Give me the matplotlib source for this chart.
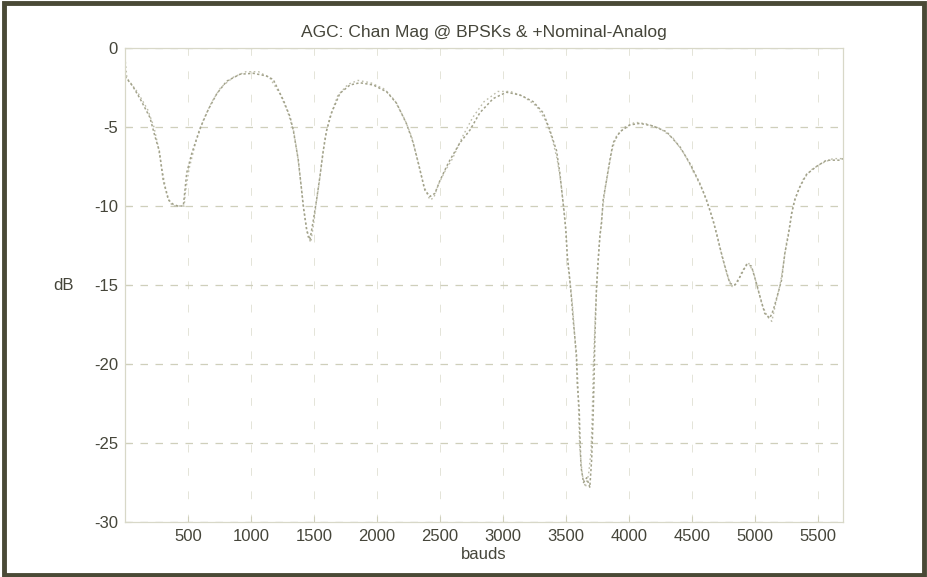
import matplotlib.pyplot as plt
from matplotlib.patches import Rectangle
import numpy as np

# two overlapping AGC channel-magnitude traces
baud_a = [0, 60, 119, 198, 238, 272, 304, 344, 383, 420, 463, 490, 529, 595, 661, 728, 807, 913,
          1018, 1124, 1177, 1257, 1310, 1336, 1376, 1402, 1415, 1442, 1468, 1495, 1521, 1548, 1574,
          1601, 1640, 1706, 1786, 1865, 1971, 2077, 2156, 2235, 2288, 2341, 2381, 2421, 2460, 2500,
          2553, 2579, 2659, 2738, 2817, 2923, 3029, 3135, 3241, 3320, 3373, 3426, 3452, 3479, 3500,
          3511, 3527, 3545, 3558, 3571, 3585, 3590, 3606, 3611, 3620, 3640, 3665, 3690, 3705, 3717,
          3725, 3730, 3743, 3757, 3770, 3783, 3796, 3823, 3849, 3875, 3929, 4008, 4087, 4193, 4299,
          4405, 4484, 4563, 4616, 4669, 4722, 4762, 4802, 4841, 4881, 4934, 4973, 5013, 5040, 5079,
          5119, 5146, 5185, 5212, 5238, 5265, 5291, 5317, 5357, 5410, 5489, 5569, 5675, 5700]
db_a = [-1.8, -2.4, -3.2, -4.4, -5.6, -6.5, -8.4, -9.6, -9.9, -10.0, -10.0, -7.9, -6.7, -5.1, -3.9,
        -2.9, -2.1, -1.66, -1.6, -1.77, -2.0, -3.3, -4.35, -5.2, -7.1, -9.0, -10.0, -11.5, -12.15,
        -10.9, -9.6, -8.1, -6.5, -5.2, -4.1, -2.87, -2.34, -2.2, -2.34, -2.77, -3.5, -4.8, -6.0,
        -7.7, -9.0, -9.4, -9.2, -8.4, -7.5, -7.1, -6.0, -5.2, -4.1, -3.2, -2.8, -2.97, -3.4, -4.1,
        -5.2, -6.5, -7.9, -9.9, -11.5, -13.2, -14.3, -15.9, -17.2, -18.3, -19.5, -21.2, -22.9,
        -24.4, -26.5, -27.5, -27.2, -27.8, -26.0, -23.1, -20.5, -18.4, -15.2, -13.4, -11.9, -11.1,
        -9.6, -8.35, -7.1, -6.0, -5.3, -4.87, -4.77, -4.94, -5.3, -6.25, -7.3, -8.56, -9.6, -10.9,
        -12.6, -13.8, -14.9, -15.0, -14.5, -13.7, -13.8, -14.9, -15.7, -16.8, -17.1, -16.6, -15.5,
        -14.7, -13.0, -11.9, -10.5, -9.6, -8.8, -8.0, -7.5, -7.1, -7.1, -7.0]

baud_b = [0, 15, 100, 180, 230, 265, 290, 320, 350, 380, 470, 480, 510, 560, 620, 690, 760, 860,
          960, 1060, 1150, 1230, 1290, 1340, 1370, 1395, 1420, 1450, 1475, 1500, 1515, 1540, 1565,
          1590, 1625, 1690, 1770, 1850, 1950, 2060, 2140, 2220, 2275, 2330, 2370, 2420, 2450, 2490,
          2540, 2600, 2680, 2760, 2850, 2960, 3060, 3170, 3270, 3340, 3390, 3430, 3460, 3490, 3505,
          3520, 3540, 3555, 3575, 3595, 3600, 3610, 3630, 3655, 3680, 3700, 3711, 3717, 3733, 3750,
          3765, 3790, 3810, 3840, 3865, 3900, 3970, 4050, 4140, 4250, 4350, 4440, 4520, 4590, 4640,
          4700, 4740, 4785, 4820, 4860, 4900, 4950, 4990, 5025, 5060, 5100, 5135, 5165, 5200, 5225,
          5250, 5280, 5305, 5340, 5385, 5450, 5530, 5620, 5700]
db_b = [-0.6, -1.9, -2.8, -3.9, -5.0, -6.3, -7.5, -8.8, -9.7, -10.0, -10.0, -9.1, -7.6, -6.0, -4.6,
        -3.4, -2.5, -1.85, -1.5, -1.5, -1.9, -2.9, -4.0, -5.3, -6.8, -8.5, -10.2, -11.9, -12.3,
        -11.0, -10.0, -8.6, -7.0, -5.6, -4.4, -3.0, -2.3, -2.05, -2.2, -2.6, -3.3, -4.5, -5.6,
        -7.3, -8.7, -9.6, -9.5, -8.6, -7.8, -7.0, -5.6, -4.4, -3.4, -2.75, -2.75, -3.1, -3.7,
        -4.6, -5.7, -7.0, -8.5, -10.6, -12.3, -14.0, -15.3, -16.5, -18.8, -21.0, -22.7, -25.3,
        -27.0, -27.8, -27.0, -25.5, -22.7, -20.4, -17.0, -14.2, -12.4, -10.3, -9.0, -7.6, -6.5,
        -5.6, -5.0, -4.7, -4.8, -5.1, -5.7, -6.7, -7.9, -9.1, -10.2, -11.8, -13.2, -14.5, -15.1,
        -14.9, -14.1, -13.6, -14.2, -15.3, -16.3, -17.0, -17.3, -16.2, -15.0, -13.8, -12.4, -11.2,
        -10.0, -9.1, -8.3, -7.7, -7.3, -7.0, -7.0]

xticks = [500, 1000, 1500, 2000, 2500, 3000, 3500, 4000, 4500, 5000, 5500]
yticks = [0, -5, -10, -15, -20, -25, -30]

txt = '#45453a'
grid_c = '#cfcfbb'

plt.rcParams['font.family'] = ['Liberation Sans', 'DejaVu Sans']
plt.rcParams['axes.unicode_minus'] = False

fig = plt.figure(figsize=(9.28, 5.77), dpi=100, facecolor='white')
ax = fig.add_axes([0.1347, 0.0953, 0.7737, 0.8215])

ax.plot(baud_b, db_b, color='#bdbdaa', linewidth=1.0, linestyle=(0, (1.2, 2)))
ax.plot(baud_a, db_a, color='#a2a28a', linewidth=1.1, linestyle=(0, (1.5, 1.5)))

ax.set_xlim(0, 5700)
ax.set_ylim(-30, 0)
ax.set_xticks(xticks)
ax.set_yticks(yticks)
ax.tick_params(direction='in', length=4, color=grid_c, labelcolor=txt, labelsize=12, pad=5)

ax.grid(True, axis='y', linestyle=(0, (6, 6)), linewidth=0.9, color=grid_c)
ax.grid(True, axis='x', linestyle=(0, (8, 16)), linewidth=0.7, color='#e4e4d8')
for s in ax.spines.values():
    s.set_color('#d8d8c8')
    s.set_linewidth(0.9)

ax.set_title('AGC: Chan Mag @ BPSKs & +Nominal-Analog', fontsize=12.5, color=txt, pad=8)
ax.set_xlabel('bauds', fontsize=12, color=txt, labelpad=2)
ax.set_ylabel('dB', fontsize=12, color=txt, rotation=0, labelpad=22, va='center')

# dark scan border
fig.patches.append(Rectangle((0.004, 0.004), 0.992, 0.99, transform=fig.transFigure,
                             fill=False, edgecolor='#4a4a36', linewidth=3.5))

plt.savefig('out.png', dpi=100)
